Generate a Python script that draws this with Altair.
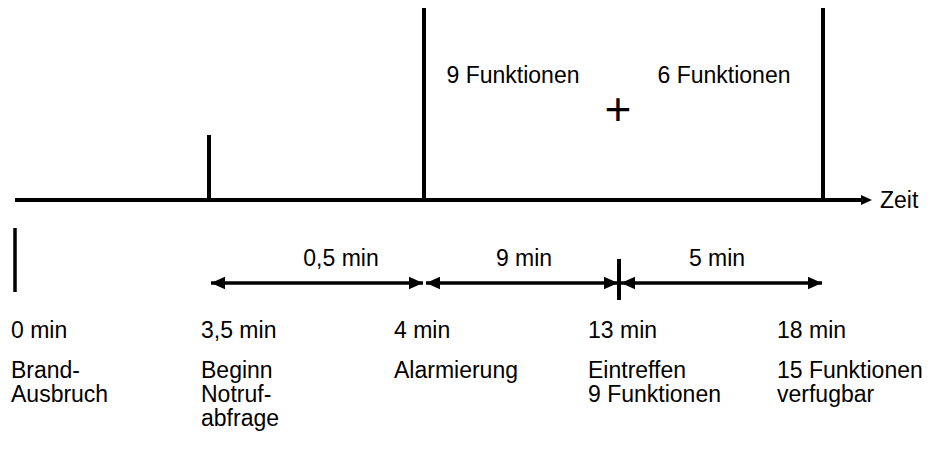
import altair as alt
import pandas as pd

# ---------------- content ----------------
event_times = ["0 min", "3,5 min", "4 min", "13 min", "18 min"]
event_texts = ["Brand-\nAusbruch", "Beginn\nNotruf-\nabfrage", "Alarmierung",
               "Eintreffen\n9 Funktionen", "15 Funktionen\nverfugbar"]
interval_texts = ["0,5 min", "9 min", "5 min"]
top_texts = ["9 Funktionen", "+", "6 Funktionen"]
axis_text = "Zeit"

# ---------------- schematic layout (diagram units) ----------------
event_x = [15, 209, 424, 619, 823]        # marker position of each event on the time line
label_x = [11, 201, 394, 588, 777]        # left edge of each event's labels
interval_x = [341, 524, 717]              # centre of each interval label
top_x = [513, 618, 724]                   # centre of the upper labels
top_baseline = [83, 125, 83]
top_size = [23, 46, 23]

AXIS_Y, ARROW_Y = 200, 283
AXIS_END, AXIS_TIP = 861, 872
FONT = "Liberation Sans"
FS = 23

# ---------------- segments ----------------
seg = [dict(x=event_x[0], x2=AXIS_END, y=AXIS_Y, y2=AXIS_Y, w=4)]
# markers above the time line
for i, top in [(1, 135), (2, 8), (4, 8)]:
    seg.append(dict(x=event_x[i], x2=event_x[i], y=top, y2=AXIS_Y, w=4))
# marker of the fire outbreak and of arrival
seg.append(dict(x=event_x[0], x2=event_x[0], y=228, y2=292, w=3.5))
seg.append(dict(x=event_x[3], x2=event_x[3], y=259, y2=300, w=4))
# interval arrows
for k in range(3):
    seg.append(dict(x=event_x[k + 1] + 2, x2=event_x[k + 2] - 1, y=ARROW_Y, y2=ARROW_Y, w=3.5))
seg_df = pd.DataFrame(seg)

heads = []
for k in range(3):
    heads.append(dict(x=event_x[k + 1] + 2, y=ARROW_Y, a=180, s=196))
    heads.append(dict(x=event_x[k + 2] - 1, y=ARROW_Y, a=0, s=196))
heads.append(dict(x=AXIS_TIP, y=AXIS_Y, a=0, s=121))
heads_df = pd.DataFrame(heads)

times_df = pd.DataFrame(dict(x=label_x, y=[338] * 5, t=event_times))
texts_df = pd.DataFrame(dict(x=label_x, y=[378] * 5, t=event_texts))
int_df = pd.DataFrame(dict(x=interval_x, y=[266] * 3, t=interval_texts))
top_df = pd.DataFrame(dict(x=top_x, y=top_baseline, t=top_texts, s=top_size))
zeit_df = pd.DataFrame(dict(x=[880], y=[208], t=[axis_text]))

xs = alt.Scale(domain=[8, 923], nice=False, zero=False)
ys = alt.Scale(domain=[8, 453], nice=False, zero=False, reverse=True)
X = lambda f="x": alt.X(f"{f}:Q", scale=xs, axis=None)
Y = lambda f="y": alt.Y(f"{f}:Q", scale=ys, axis=None)

rules = alt.Chart(seg_df).mark_rule(color="black").encode(
    x=X(), x2="x2:Q", y=Y(), y2="y2:Q",
    strokeWidth=alt.StrokeWidth("w:Q", scale=None),
)

arrowheads = alt.Chart(heads_df).mark_point(
    shape="M0,0L-2,-0.9L-2,0.9Z", filled=True, color="black", opacity=1, strokeWidth=0
).encode(
    x=X(), y=Y(),
    angle=alt.Angle("a:Q", scale=None),
    size=alt.Size("s:Q", scale=None),
)

def txt(df, align="left", **kw):
    return alt.Chart(df).mark_text(
        align=align, baseline="alphabetic", font=FONT, fontSize=FS, color="black",
        lineBreak="\n", lineHeight=24, **kw
    ).encode(x=X(), y=Y(), text="t:N")

times = txt(times_df)
texts = txt(texts_df)
ints = txt(int_df, align="center")
zeit = txt(zeit_df)
tops = alt.Chart(top_df).mark_text(
    align="center", baseline="alphabetic", font=FONT, color="black"
).encode(x=X(), y=Y(), text="t:N", size=alt.Size("s:Q", scale=None))

chart = alt.layer(rules, arrowheads, times, texts, ints, zeit, tops).properties(
    width=915, height=445, autosize=alt.AutoSizeParams(type="none"), padding=0,
    background="white",
).configure_view(stroke=None)

chart.save("out.html", embed_options={"renderer": "svg", "actions": False})
